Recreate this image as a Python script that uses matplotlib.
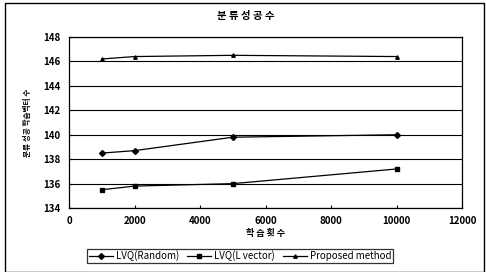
import matplotlib
matplotlib.use("Agg")
import matplotlib.pyplot as plt
from matplotlib.patches import Rectangle

plt.rcParams['font.family'] = ['Noto Sans CJK KR', 'DejaVu Sans']

x = [1000, 2000, 5000, 10000]
random_vals = [138.5, 138.7, 139.8, 140.0]
lvector_vals = [135.5, 135.8, 136.0, 137.2]
proposed_vals = [146.2, 146.4, 146.5, 146.4]
labels = ['LVQ(Random)', 'LVQ(L vector)', 'Proposed method']
title = '분 류 성 공 수'
xlabel = '학 습 횟 수'
ylabel = '분류 성공 학습벡터 수'
xticks = [0, 2000, 4000, 6000, 8000, 10000, 12000]
yticks = [134, 136, 138, 140, 142, 144, 146, 148]

fig = plt.figure(figsize=(4.86, 2.72), dpi=100)
ax = fig.add_axes([0.142, 0.235, 0.809, 0.629])

ax.plot(x, random_vals, color='black', lw=0.9, marker='D', ms=3, label=labels[0])
ax.plot(x, lvector_vals, color='black', lw=0.9, marker='s', ms=3.5, label=labels[1])
ax.plot(x, proposed_vals, color='black', lw=0.9, marker='^', ms=2.5, label=labels[2])

ax.set_xlim(0, 12000)
ax.set_ylim(134, 148)
ax.set_xticks(xticks)
ax.set_yticks(yticks)
ax.tick_params(labelsize=7, length=2, direction='in', pad=6)
for lab in ax.get_xticklabels() + ax.get_yticklabels():
    lab.set_fontweight('bold')
ax.grid(axis='y', color='black', lw=0.8)
ax.set_axisbelow(True)
for s in ax.spines.values():
    s.set_color('black')
    s.set_linewidth(0.9)

ax.set_xlabel(xlabel, fontsize=6.5, fontweight='bold', labelpad=2)
ax.set_ylabel(ylabel, fontsize=5.5, fontweight='bold', labelpad=8)
fig.text(0.505, 0.94, title, fontsize=7.5, fontweight='bold', ha='center', va='center')

leg = fig.legend(loc='center', bbox_to_anchor=(0.494, 0.059), ncol=3, fontsize=7,
                 frameon=True, fancybox=False, edgecolor='black', handlelength=2.5,
                 columnspacing=0.8, borderpad=0.15, handletextpad=0.3)
leg.get_frame().set_linewidth(0.9)
for i, t in enumerate(leg.get_texts()):
    if i > 0:
        t.set_fontstyle('italic')

fig.patches.append(Rectangle((0.01, 0.0), 0.985, 0.99, transform=fig.transFigure,
                             fill=False, edgecolor='black', lw=1.0))

fig.savefig('out.png', dpi=100)
